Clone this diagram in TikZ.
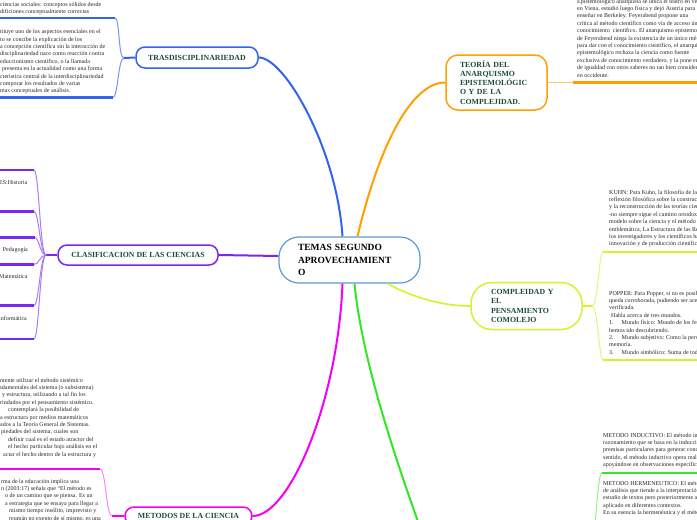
\documentclass[tikz,border=0pt]{standalone}
\usepackage{fontspec}
\setmainfont{Liberation Serif}
\usetikzlibrary{calc}
\definecolor{ccenter}{RGB}{90,155,213}
\definecolor{cblue}{RGB}{50,100,240}
\definecolor{lblue}{RGB}{115,150,245}
\definecolor{corange}{RGB}{255,160,0}
\definecolor{lorange}{RGB}{255,200,110}
\definecolor{cpurple}{RGB}{120,40,240}
\definecolor{lpurple}{RGB}{170,125,245}
\definecolor{cmagenta}{RGB}{245,0,245}
\definecolor{lmagenta}{RGB}{250,135,250}
\definecolor{cyellow}{RGB}{210,245,40}
\definecolor{lyellow}{RGB}{228,245,130}
\definecolor{cgreen}{RGB}{50,230,40}
\definecolor{lgreen}{RGB}{150,240,140}
\definecolor{titlegreen}{RGB}{30,75,55}
\definecolor{bodytext}{RGB}{40,40,40}
\tikzset{
  mmtopic/.style={rounded corners=9, line width=1.5, fill=white, inner sep=0,
    font=\fontsize{7.8}{9.2}\selectfont\bfseries, text=titlegreen, align=center},
  mmbody/.style={anchor=north west, inner sep=0, align=left, text=bodytext,
    font=\fontsize{6}{7.4}\selectfont},
  mmbranch/.style={line width=2},
  mmconn/.style={line width=1},
  mmrule/.style={line width=2.2},
}
\begin{document}
\begin{tikzpicture}[x=1pt,y=-1pt]
\useasboundingbox (0,0) rectangle (697,520);
\fill[white] (0,0) rectangle (697,520);

% ---------- topic nodes ----------
\node[mmtopic, draw=ccenter, line width=1.2, rounded corners=20, minimum width=141, minimum height=46,
  text width=103, align=left, text=black, font=\fontsize{9.5}{12.5}\selectfont\bfseries]
  (C) at (349.5,260) {TEMAS SEGUNDO\\APROVECHAMIENT\\O};
\node[mmtopic, draw=cblue, minimum width=122, minimum height=21] (T) at (197,57.5) {TRASDISCIPLINARIEDAD};
\node[mmtopic, draw=corange, rounded corners=12, minimum width=101, minimum height=55, text width=73, align=left]
  (O) at (496.5,82.5) {TEORÍA DEL\\ANARQUISMO\\EPISTEMOLÓGIC\\O Y DE LA\\COMPLEJIDAD.};
\node[mmtopic, draw=cpurple, minimum width=160, minimum height=20] (L) at (138,255) {CLASIFICACION DE LAS CIENCIAS};
\node[mmtopic, draw=cyellow, rounded corners=21, minimum width=111, minimum height=47, text width=71, align=left]
  (P) at (526.5,306) {COMPLEIDAD Y\\EL\\PENSAMIENTO\\COMOLEJO};
\node[mmtopic, draw=cmagenta, minimum width=127, minimum height=18] (M) at (188.5,516) {METODOS DE LA CIENCIA};

% ---------- main branches ----------
\coordinate (gEnd) at (432,560);
\draw[mmbranch, cblue] ($(C.north)+(-7,0)$) .. controls (337,150) and (285,57.5) .. (T.east);
\draw[mmbranch, corange] ($(C.north)+(8,0)$) .. controls (378,150) and (410,82.5) .. (O.west);
\draw[mmbranch, cpurple] ($(C.west)+(0,-4)$) -- (L.east);
\draw[mmbranch, cmagenta] ($(C.south)+(-7,0)$) .. controls (338,400) and (290,516) .. (M.east);
\draw[mmbranch, cyellow, line width=1.6] ($(C.south)+(38,0)$) .. controls (410,296) and (440,306) .. (P.west);
\draw[mmbranch, cgreen] ($(C.south)+(5,0)$) .. controls (362,360) and (395,460) .. (gEnd);

% ---------- TRASDISCIPLINARIEDAD children ----------
\coordinate (tf) at (124,58);
\coordinate (t1) at (115,18);
\coordinate (t2) at (113,97.5);
\draw[mmbranch, cblue] (T.west) -- (tf);
\draw[mmconn, lblue] (tf) .. controls (118,58) and (120,18) .. (t1);
\draw[mmconn, lblue] (tf) .. controls (118,58) and (118,97.5) .. (t2);
\draw[mmrule, cblue] (t1) -- ++(-125,0);
\draw[mmrule, cblue] (t2) -- ++(-125,0);
\node[mmbody] (ta) at (0,0.8) {\strut ciencias sociales: conceptos sólidos desde\\dificiones conceptualmente correctas};
\node[mmbody] (tb) at (0,28.3) {\strut tituye uno de los aspectos esenciales en el\\
to se concibe la explicación de los\\
a concepción científica sin la interacción de\\
disciplinariedad nace como reacción contra\\
educcionismo científico, o la llamada\\
\hspace*{2pt}presenta en la actualidad como una forma\\
cterística central de la interdisciplinariedad\\
comporar los resultados de varias\\
mas conceptuales de análisis.};

% ---------- TEORIA child ----------
\coordinate (o1) at (573,82.5);
\draw[mmconn, lorange] (O.east) -- (o1);
\draw[mmrule, corange] (o1) -- ++(130,0);
\node[mmbody] (oa) at (577,-2.2) {\strut Epistemológico anarquista se ubica el teatro en vez de\\
en Viena, estudió luego física y dejó Austria para\\
enseñar en Berkeley. Feyerabend propone una\\
crítica al método científico como vía de acceso único al\\
conocimiento\ \ científico. El anarquismo epistemológico\\
de Feyerabend niega la existencia de un único método\\
para dar con el conocimiento científico, el anarquismo\\
epistemológico rechaza la ciencia como fuente\\
exclusiva de conocimiento verdadero, y la pone en un plano\\
de igualdad con otros saberes no tan bien considerados\\
en occidente.};

% ---------- CLASIFICACION children ----------
\coordinate (lf) at (46,255);
\draw[mmbranch, cpurple] (L.west) -- (lf);
\foreach \yy/\xx [count=\i] in {170/34,211.5/34,237.5/35,264.5/34,305.5/34,339/34} {
  \coordinate (l\i) at (\xx,\yy);
  \draw[mmconn, lpurple] (lf) .. controls (40,255) and (39,\yy) .. (l\i);
  \draw[mmrule, cpurple] (l\i) -- ++(-45,0);
}
\node[mmbody] (la) at (-1,178.8) {\strut ES:Historia};
\node[mmbody] (lb) at (-1,246.3) {\strut : Pedagogía};
\node[mmbody] (lc) at (-1,272.8) {\strut Matemática};
\node[mmbody] (ld) at (-1,314.8) {\strut informática};

% ---------- METODOS children ----------
\coordinate (mf) at (112,516);
\coordinate (m1) at (100,469);
\draw[mmbranch, cmagenta] (M.west) -- (mf);
\draw[mmconn, lmagenta] (mf) .. controls (106,516) and (106,469) .. (m1);
\draw[mmrule, cmagenta] (m1) -- ++(-110,0);
\node[mmbody] (ma) at (-9,376.8) {\strut\hspace*{9pt}ntente utilizar el método sistémico\\
\hspace*{8pt}adamentales del sistema (o subsistema)\\
\hspace*{8pt}, y estructura, utilizando a tal fin los\\
\hspace*{9pt}rindados por el pensamiento sistémico.\\
\hspace*{17pt}contemplará la posibilidad de\\
\hspace*{9pt}a estructura por medios matemáticos\\
\hspace*{9pt}ados a la Teoría General de Sistemas.\\
\hspace*{10pt}piedades del sistema, cuales son\\
\hspace*{17pt}definir cual es el estado atractor del\\
\hspace*{17pt}el hecho particular bajo análisis en el\\
\hspace*{12pt}actar el hecho dentro de la estructura y};
\node[mmbody] (mb) at (-9,477.8) {\strut\hspace*{10pt}rma de la educación implica una\\
\hspace*{10pt}n (2003:17) señala que “El método es\\
\hspace*{14pt}o de un camino que se piensa. Es un\\
\hspace*{14pt}a estrategia que se ensaya para llegar a\\
\hspace*{18pt}mismo tiempo insólito, imprevisto y\\
\hspace*{18pt}reumán no exento de sí mismo, es una};

% ---------- COMPLEIDAD children ----------
\coordinate (pf) at (592,306);
\coordinate (p1) at (603,252);
\coordinate (p2) at (603,360);
\draw[mmbranch, cyellow, line width=1.6] (P.east) -- (pf);
\draw[mmconn, lyellow] (pf) .. controls (598,306) and (599,252) .. (p1);
\draw[mmconn, lyellow] (pf) .. controls (598,306) and (599,360) .. (p2);
\draw[mmrule, cyellow] (p1) -- ++(100,0);
\draw[mmrule, cyellow] (p2) -- ++(100,0);
\node[mmbody] (pa) at (609,188.8) {\strut KUHN: Para Kuhn, la filosofía de la ciencia\\
reflexión filosófica sobre la construcción\\
y la reconstrucción de las teorías científicas\\
-no siempre sigue el camino ortodoxo-\\
modelo sobre la ciencia y el método científico\\
emblemática, La Estructura de las Revoluciones\\
los investigadores y los científicos han\\
innovación y de producción científica};
\node[mmbody] (pb) at (609,289.8) {\strut POPPER: Para Popper, si no es posible\\
queda corroborada, pudiendo ser aceptada\\
verificada.\\
·Habla acerca de tres mundos.\\
1.\hspace*{8pt}Mundo físico: Mundo de los fenómenos\\
hemos ido descubriendo.\\
2.\hspace*{8pt}Mundo subjetivo: Como la persona\\
memoria.\\
3.\hspace*{8pt}Mundo simbólico: Suma de todo};

% ---------- green children ----------
\coordinate (gf) at (590,560);
\coordinate (g1) at (602,473);
\draw[mmconn, lgreen] (gf) .. controls (596,540) and (597,473) .. (g1);
\draw[mmrule, cgreen] (g1) -- ++(100,0);
\node[mmbody] (ga) at (603,431.8) {\strut METODO INDUCTIVO: El método inductivo\\
razonamiento que se basa en la inducción\\
premisas particulares para generar conclusiones\\
sentido, el método inductivo opera realizando\\
apoyándose en observaciones específicas};
\node[mmbody] (gb) at (603,479.8) {\strut METODO HERMENEUTICO: El método\\
de análisis que tiende a la interpretación\\
estudio de textos pero posteriormente ampliado\\
aplicado en diferentes contextos.\\
En su esencia la hermenéutica y el método};
\end{tikzpicture}
\end{document}
